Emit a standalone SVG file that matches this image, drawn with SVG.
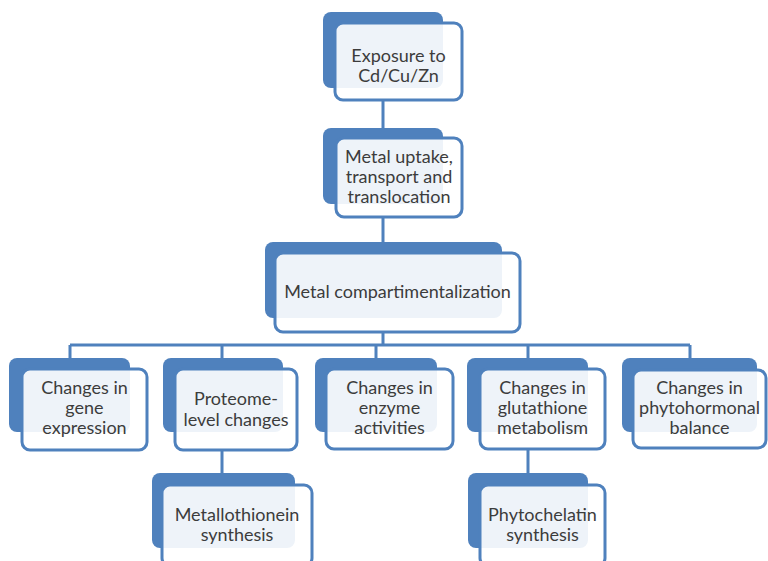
<svg xmlns="http://www.w3.org/2000/svg" width="768" height="561" viewBox="0 0 768 561">
<style>
.bk{fill:#4f81bd}
.fr{fill:#ffffff;fill-opacity:0.9;stroke:#4f81bd;stroke-width:3}
.cn{fill:none;stroke:#4f81bd;stroke-width:3}
text{font-family:Lato,"Open Sans",sans-serif;font-size:18px;fill:#3c3c3c;text-anchor:middle}
</style>
<rect width="768" height="561" fill="#ffffff"/>
<g id="connectors">
<path class="cn" d="M383 100V128M383 217V242M383 332V345M70 345H690M70 345V358M222 345V358M376 345V358M528 345V358M690 345V358M222 450V473M528 450V473"/>
</g>
<g id="n1">
<rect class="bk" x="323" y="12" width="120" height="76" rx="8"/>
<rect class="fr" x="335" y="23" width="127" height="77" rx="8"/>
<text x="398.5" y="62">Exposure to</text>
<text x="398.5" y="82">Cd/Cu/Zn</text>
</g>
<g id="n2">
<rect class="bk" x="323" y="128" width="120" height="76" rx="8"/>
<rect class="fr" x="336" y="138" width="126" height="79" rx="8"/>
<text x="399" y="163">Metal uptake,</text>
<text x="399" y="183">transport and</text>
<text x="399" y="203">translocation</text>
</g>
<g id="n3">
<rect class="bk" x="265" y="242" width="237" height="76" rx="8"/>
<rect class="fr" x="275" y="253" width="245" height="79" rx="8"/>
<text x="397.5" y="298">Metal compartimentalization</text>
</g>
<g id="n4">
<rect class="bk" x="9" y="358" width="121" height="74" rx="8"/>
<rect class="fr" x="22" y="369" width="125" height="81" rx="8"/>
<text x="84.5" y="394">Changes in</text>
<text x="84.5" y="414">gene</text>
<text x="84.5" y="434">expression</text>
</g>
<g id="n5">
<rect class="bk" x="163" y="358" width="120" height="74" rx="8"/>
<rect class="fr" x="175" y="369" width="122" height="81" rx="8"/>
<text x="236" y="405">Proteome-</text>
<text x="236" y="426">level changes</text>
</g>
<g id="n6">
<rect class="bk" x="315" y="358" width="122" height="74" rx="8"/>
<rect class="fr" x="326" y="369" width="127" height="80" rx="8"/>
<text x="389.5" y="394">Changes in</text>
<text x="389.5" y="414">enzyme</text>
<text x="389.5" y="434">activities</text>
</g>
<g id="n7">
<rect class="bk" x="467" y="358" width="121" height="74" rx="8"/>
<rect class="fr" x="480" y="369" width="125" height="80" rx="8"/>
<text x="542.5" y="394">Changes in</text>
<text x="542.5" y="414">glutathione</text>
<text x="542.5" y="434">metabolism</text>
</g>
<g id="n8">
<rect class="bk" x="622" y="358" width="135" height="74" rx="8"/>
<rect class="fr" x="633" y="370" width="133" height="78" rx="8"/>
<text x="699.5" y="394">Changes in</text>
<text x="699.5" y="414">phytohormonal</text>
<text x="699.5" y="434">balance</text>
</g>
<g id="n9">
<rect class="bk" x="152" y="473" width="143" height="75" rx="8"/>
<rect class="fr" x="162" y="485" width="150" height="81" rx="8"/>
<text x="237" y="521">Metallothionein</text>
<text x="237" y="541">synthesis</text>
</g>
<g id="n10">
<rect class="bk" x="468" y="473" width="120" height="75" rx="8"/>
<rect class="fr" x="480" y="485" width="125" height="81" rx="8"/>
<text x="542.5" y="521">Phytochelatin</text>
<text x="542.5" y="541">synthesis</text>
</g>
</svg>
